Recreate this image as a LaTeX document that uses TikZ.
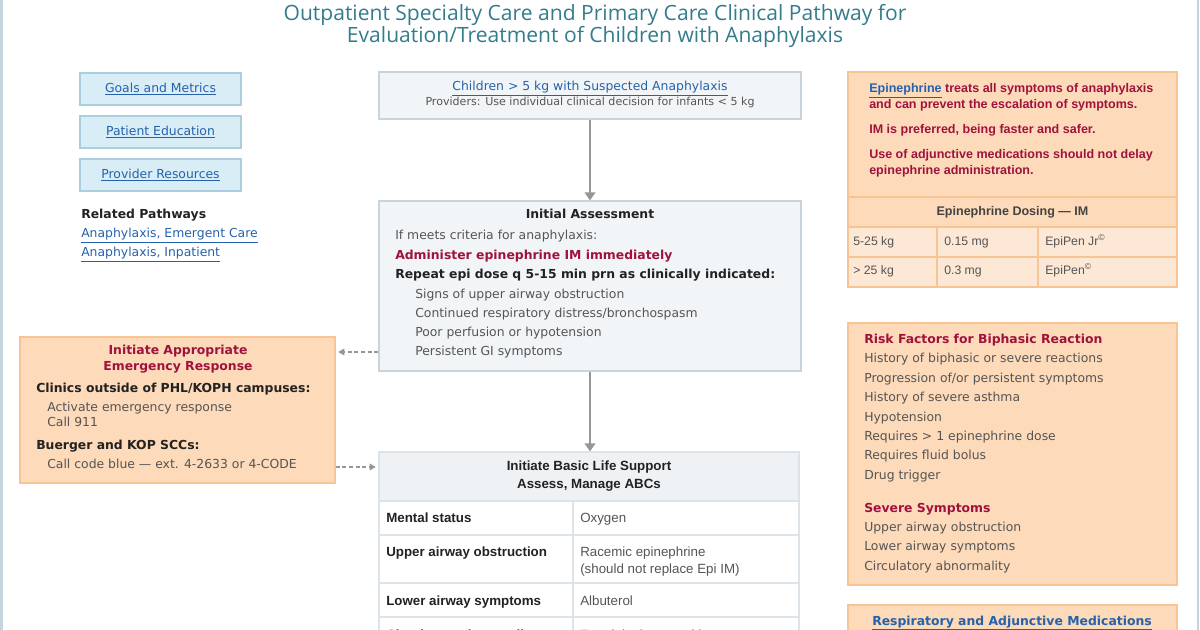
\documentclass[tikz,border=0pt]{standalone}
\usepackage{fontspec}
\setmainfont{DejaVu Sans}
\newfontfamily\titlefont{Open Sans}
\newfontfamily\arialfont{Liberation Sans}
\usetikzlibrary{arrows.meta}
\definecolor{titleteal}{RGB}{52,124,140}
\definecolor{linkblue}{RGB}{38,98,172}
\definecolor{linkfill}{RGB}{216,237,246}
\definecolor{linkedge}{RGB}{170,206,222}
\definecolor{flowfill}{RGB}{242,245,247}
\definecolor{flowedge}{RGB}{200,212,220}
\definecolor{peach}{RGB}{253,218,185}
\definecolor{peachedge}{RGB}{248,196,148}
\definecolor{peachlight}{RGB}{253,232,214}
\definecolor{alertred}{RGB}{160,18,62}
\definecolor{textgray}{RGB}{85,85,85}
\definecolor{textdark}{RGB}{34,34,34}
\definecolor{arrowgray}{RGB}{150,150,150}
\definecolor{pageedge}{RGB}{198,213,221}
\definecolor{cellline}{RGB}{220,228,233}
\definecolor{headfill}{RGB}{238,242,245}
\tikzset{
  link box/.style={draw=linkedge,fill=linkfill,line width=0.8pt,minimum width=120.75pt,minimum height=24pt,inner sep=0pt,font=\fontsize{9.3}{11}\selectfont},
  flow box/.style={draw=flowedge,fill=flowfill,line width=0.9pt,inner sep=0pt},
  alert box/.style={draw=peachedge,fill=peach,line width=0.9pt,inner sep=0pt},
  line text/.style={anchor=base west,inner sep=0pt,font=\fontsize{9.3}{11}\selectfont,text=textgray},
  head text/.style={anchor=base west,inner sep=0pt,font=\fontsize{9.3}{11}\selectfont\bfseries,text=textdark},
  alert head/.style={anchor=base,inner sep=0pt,font=\fontsize{9.3}{11}\selectfont\bfseries,text=alertred},
  center text/.style={anchor=base,inner sep=0pt,font=\fontsize{9.3}{11}\selectfont,text=textgray},
  epi text/.style={anchor=base west,inner sep=0pt,font=\arialfont\fontsize{9.4}{11}\selectfont\bfseries,text=alertred},
  table bold/.style={anchor=base west,inner sep=0pt,font=\arialfont\fontsize{10}{12}\selectfont\bfseries,text=textdark},
  table text/.style={anchor=base west,inner sep=0pt,font=\arialfont\fontsize{10}{12}\selectfont,text=textgray},
  dose text/.style={anchor=base west,inner sep=0pt,font=\arialfont\fontsize{9.2}{11}\selectfont,text=textgray},
  flow arrow/.style={draw=arrowgray,line width=1.3pt,-{Triangle[width=8pt,length=6pt]}},
  side arrow/.style={draw=arrowgray,line width=0.9pt,dash pattern=on 3pt off 2pt,shorten >=2pt,-{Triangle[width=5pt,length=4.5pt]}},
}
\newcommand{\lnk}[1]{\textcolor{linkblue}{\underline{#1}}}

\begin{document}
\begin{tikzpicture}[x=0.75pt,y=-0.75pt]
  \useasboundingbox (0,0) rectangle (1200,630);
  \clip (0,0) rectangle (1200,630);

  %page edges
  \draw[pageedge,line width=1.5pt] (1.5,0) -- (1.5,630);
  \draw[pageedge,line width=1.5pt] (1197.5,0) -- (1197.5,630);

  %title
  \node[align=center,font=\titlefont\fontsize{15.8}{15}\selectfont,text=titleteal] (title) at (595,26)
    {Outpatient Specialty Care and Primary Care Clinical Pathway for\\Evaluation/Treatment of Children with Anaphylaxis};

  %left links
  \node[link box] (goals) at (160.5,89) {\lnk{Goals and Metrics}};
  \node[link box] (patient) at (160.5,132) {\lnk{Patient Education}};
  \node[link box] (provider) at (160.5,175) {\lnk{Provider Resources}};
  \node[head text] (related) at (81,219) {Related Pathways};
  \node[line text] (emergent) at (81,238) {\lnk{Anaphylaxis, Emergent Care}};
  \node[line text] (inpatient) at (81,257) {\lnk{Anaphylaxis, Inpatient}};

  %start
  \node[flow box,minimum width=316.5pt,minimum height=35.25pt] (start) at (590,95.5) {};
  \node[center text] (startlink) at (590,91) {\lnk{Children > 5 kg with Suspected Anaphylaxis}};
  \node[center text,font=\fontsize{8.3}{10}\selectfont] (startnote) at (590,106) {Providers: Use individual clinical decision for infants < 5 kg};

  %initial assessment
  \node[flow box,minimum width=316.5pt,minimum height=127.5pt] (assess) at (590,286) {};
  \node[head text,anchor=base] (assesstitle) at (590,219) {Initial Assessment};
  \node[line text] (criteria) at (395,240) {If meets criteria for anaphylaxis:};
  \node[head text,text=alertred] (administer) at (395,260) {Administer epinephrine IM immediately};
  \node[head text] (repeat) at (395,279) {Repeat epi dose q 5-15 min prn as clinically indicated:};
  \foreach \t [count=\i] in {Signs of upper airway obstruction, Continued respiratory distress/bronchospasm, Poor perfusion or hypotension, Persistent GI symptoms}
    \node[line text] (sign\i) at (415,{279+19.2*\i}) {\t};

  %emergency response
  \node[alert box,minimum width=236.25pt,minimum height=109.5pt] (emerg) at (177.5,410) {};
  \node[alert head] (emergtitle) at (178,355) {Initiate Appropriate};
  \node[alert head] (emergtitleb) at (178,371) {Emergency Response};
  \node[head text] (clinics) at (36,393) {Clinics outside of PHL/KOPH campuses:};
  \node[line text] (activate) at (47,412) {Activate emergency response};
  \node[line text] (callnum) at (47,427) {Call 911};
  \node[head text] (buerger) at (36,450) {Buerger and KOP SCCs:};
  \node[line text] (codeblue) at (47,469) {Call code blue — ext. 4-2633 or 4-CODE};

  %basic life support
  \node[flow box,fill=headfill,draw=cellline,minimum width=315pt,minimum height=36.75pt,align=center,
    font=\arialfont\fontsize{10}{13.5}\selectfont\bfseries,text=textdark] (bls) at (589,476.5)
    {Initiate Basic Life Support\\Assess, Manage ABCs};
  \foreach \ya/\yb in {501/535,535/583,583/617,617/660}{
    \draw[cellline,fill=white,line width=0.9pt] (379,\ya) rectangle (573,\yb);
    \draw[cellline,fill=white,line width=0.9pt] (573,\ya) rectangle (799,\yb);
  }
  \foreach \lt/\rt/\y [count=\i] in {Mental status/Oxygen/523, Upper airway obstruction/Racemic epinephrine/557, Lower airway symptoms/Albuterol/605, Circulatory abnormality/Trendelenburg position/639}{
    \node[table bold] (blsl\i) at (386,\y) {\lt};
    \node[table text] (blsr\i) at (580,\y) {\rt};
  }
  \node[table text] (blsnote) at (580,574) {(should not replace Epi IM)};

  %arrows
  \draw[flow arrow] (start.south) -- (assess.north);
  \draw[flow arrow] (assess.south) -- (assess.south |- bls.north);
  \coordinate (a1) at ([yshift=-49.5pt]assess.west);
  \draw[side arrow] (a1) -- (a1 -| emerg.east);
  \coordinate (e1) at ([yshift=-42.75pt]emerg.east);
  \draw[side arrow] (e1) -- (e1 -| bls.west);

  %epinephrine
  \node[alert box,minimum width=246.75pt,minimum height=93.75pt] (epi) at (1012.5,134.5) {};
  \node[epi text] (epi1) at (869,93) {\lnk{Epinephrine} treats all symptoms of anaphylaxis};
  \node[epi text] (epi2) at (869,109) {and can prevent the escalation of symptoms.};
  \node[epi text] (epi3) at (869,134) {IM is preferred, being faster and safer.};
  \node[epi text] (epi4) at (869,159) {Use of adjunctive medications should not delay};
  \node[epi text] (epi5) at (869,175) {epinephrine administration.};
  \node[alert box,minimum width=246.75pt,minimum height=22.5pt,font=\arialfont\fontsize{9.4}{11}\selectfont\bfseries,text=textdark!85] (dosehead) at (1012.5,212) {Epinephrine Dosing — IM};
  \foreach \xa/\xb in {848/937,937/1038,1038/1177}
    \foreach \ya/\yb in {227/257,257/287}
      \draw[peachedge,fill=peachlight,line width=0.9pt] (\xa,\ya) rectangle (\xb,\yb);
  \foreach \a/\b/\c/\y [count=\i] in {5-25 kg/0.15 mg/EpiPen Jr\textsuperscript{©}/246, > 25 kg/0.3 mg/EpiPen\textsuperscript{©}/275}{
    \node[dose text] (weight\i) at (853,\y) {\a};
    \node[dose text] (dose\i) at (944,\y) {\b};
    \node[dose text] (pen\i) at (1045,\y) {\c};
  }

  %risk factors
  \node[alert box,minimum width=246.75pt,minimum height=196.5pt] (risk) at (1012.5,454) {};
  \node[head text,text=alertred] (risktitle) at (864,344) {Risk Factors for Biphasic Reaction};
  \foreach \t [count=\i] in {History of biphasic or severe reactions, Progression of/or persistent symptoms, History of severe asthma, Hypotension, Requires > 1 epinephrine dose, Requires fluid bolus, Drug trigger}
    \node[line text] (risk\i) at (864,{343.6+19.4*\i}) {\t};
  \node[head text,text=alertred] (severetitle) at (864,513) {Severe Symptoms};
  \foreach \t [count=\i] in {Upper airway obstruction, Lower airway symptoms, Circulatory abnormality}
    \node[line text] (severe\i) at (864,{512+19.4*\i}) {\t};

  %medications
  \node[alert box,minimum width=246.75pt,minimum height=41.25pt] (meds) at (1012.5,632.5) {};
  \node[center text,font=\fontsize{9.3}{11}\selectfont\bfseries] (medslink) at (1012,625) {\lnk{Respiratory and Adjunctive Medications}};

\end{tikzpicture}
\end{document}
